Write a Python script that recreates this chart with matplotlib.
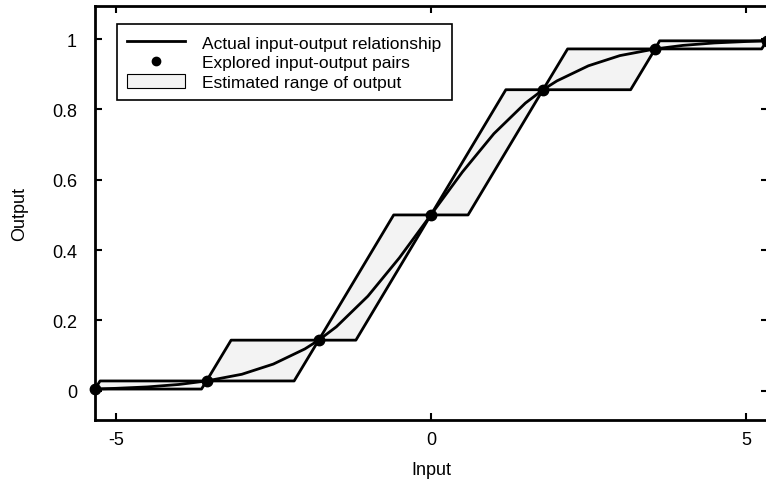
import numpy as np
import matplotlib
matplotlib.use("Agg")
import matplotlib.pyplot as plt
from matplotlib.patches import Patch
from matplotlib.lines import Line2D

plt.rcParams["font.family"] = ["Liberation Sans", "DejaVu Sans"]
plt.rcParams["axes.unicode_minus"] = False

# explored input-output pairs
explored_x = [-5.33, -3.56, -1.78, 0.0, 1.78, 3.56, 5.33]
explored_y = [0.005, 0.028, 0.144, 0.5, 0.856, 0.972, 0.995]

# where the upper / lower bound reaches the next level
upper_knee_x = [-5.25, -3.17, -0.59, 1.19, 2.17, 3.63]
lower_knee_x = [-3.64, -2.17, -1.19, 0.59, 3.17, 5.25]

# actual input-output relationship
actual_x = [-5.33, -5.0, -4.5, -4.0, -3.56, -3.0, -2.5, -2.0, -1.78, -1.5, -1.0, -0.5, 0.0,
            0.5, 1.0, 1.5, 1.78, 2.0, 2.5, 3.0, 3.56, 4.0, 4.5, 5.0, 5.33]
actual_y = [0.005, 0.007, 0.011, 0.018, 0.028, 0.047, 0.076, 0.119, 0.144, 0.182, 0.269,
            0.378, 0.5, 0.622, 0.731, 0.818, 0.856, 0.881, 0.924, 0.953, 0.972, 0.982,
            0.989, 0.993, 0.995]


# build the upper and lower bound outlines from the explored pairs
def bound_lines():
    ux, uy = [explored_x[0]], [explored_y[0]]
    lx, ly = [explored_x[0]], [explored_y[0]]
    for i in range(len(explored_x) - 1):
        ux += [upper_knee_x[i], explored_x[i + 1]]
        uy += [explored_y[i + 1], explored_y[i + 1]]
        lx += [lower_knee_x[i], explored_x[i + 1]]
        ly += [explored_y[i], explored_y[i + 1]]
    return ux, uy, lx, ly


ux, uy, lx, ly = bound_lines()

fig = plt.figure(figsize=(7.66, 4.85), dpi=100)
ax = fig.add_axes([95 / 766, 1 - 421 / 485, 673 / 766, 414 / 485])

# shaded range: polygon up the upper bound and back along the lower bound
ax.fill(ux + lx[::-1], uy + ly[::-1], facecolor="#f3f3f3", edgecolor="none", zorder=1)
ax.plot(ux, uy, color="black", lw=2, zorder=2, solid_joinstyle="round")
ax.plot(lx, ly, color="black", lw=2, zorder=2, solid_joinstyle="round")
ax.plot(actual_x, actual_y, color="black", lw=2, zorder=3, solid_joinstyle="round")
ax.plot(explored_x, explored_y, "o", color="black", ms=7.5, zorder=4, clip_on=False)

ax.set_xlim(-5.33, 5.35)
ax.set_ylim(-0.083, 1.094)
ax.set_xticks([-5, 0, 5])
ax.set_yticks([0, 0.2, 0.4, 0.6, 0.8, 1])
ax.set_yticklabels(["0", "0.2", "0.4", "0.6", "0.8", "1"])
ax.tick_params(direction="in", top=True, right=True, length=5, width=1.5,
               labelsize=13, pad=8)
ax.tick_params(axis="y", pad=13)
for s in ax.spines.values():
    s.set_linewidth(2)
ax.set_xlabel("Input", fontsize=13, labelpad=9)
ax.set_ylabel("Output", fontsize=13, labelpad=17)

handles = [
    Line2D([], [], color="black", lw=2),
    Line2D([], [], marker="o", color="black", ls="none", ms=6),
    Patch(facecolor="#f3f3f3", edgecolor="black", lw=0.8),
]
labels = ["Actual input-output relationship", "Explored input-output pairs",
          "Estimated range of output"]
leg = ax.legend(handles, labels, loc="upper left", bbox_to_anchor=(22 / 673, 1 - 18 / 414),
                borderaxespad=0, fancybox=False, fontsize=12.5, handlelength=3.3,
                labelspacing=0.2, handletextpad=1.0, borderpad=0.6, framealpha=1,
                handleheight=0.9)
leg.get_frame().set_edgecolor("black")
leg.get_frame().set_linewidth(1.2)

fig.savefig("out.png", dpi=100)
